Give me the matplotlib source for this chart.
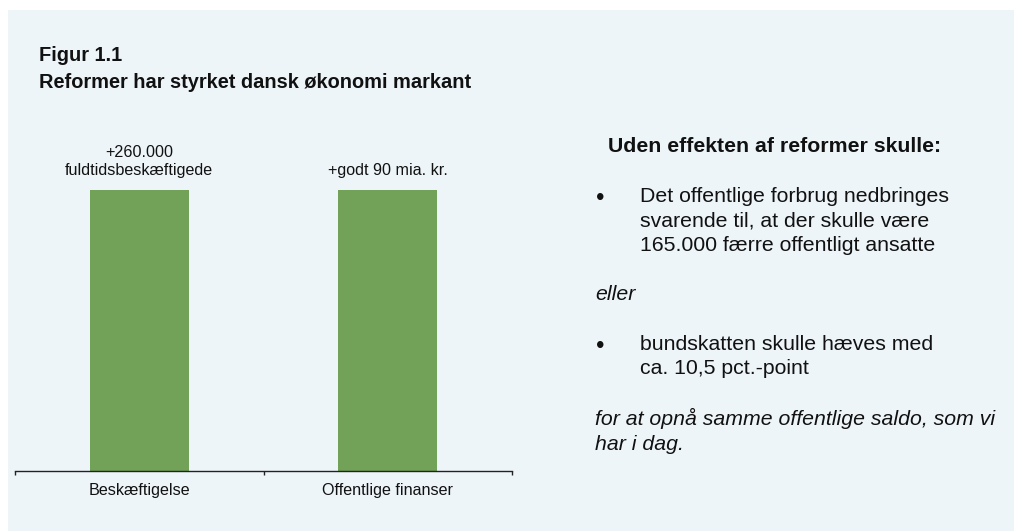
import matplotlib
matplotlib.use("Agg")
import matplotlib.pyplot as plt
from matplotlib.patches import Rectangle

plt.rcParams['font.family'] = ['Liberation Sans', 'DejaVu Sans']

categories = ["Beskæftigelse", "Offentlige finanser"]
values = [100, 100]
bar_labels = ["+260.000\nfuldtidsbeskæftigede", "+godt 90 mia. kr."]

fig_title = "Figur 1.1"
fig_subtitle = "Reformer har styrket dansk økonomi markant"
side_heading = "Uden effekten af reformer skulle:"
bullet1 = ["Det offentlige forbrug nedbringes",
           "svarende til, at der skulle være",
           "165.000 færre offentligt ansatte"]
between = "eller"
bullet2 = ["bundskatten skulle hæves med",
           "ca. 10,5 pct.-point"]
closing = ["for at opnå samme offentlige saldo, som vi",
           "har i dag."]

W, H = 1014, 531
BG = "#EDF5F9"
BAR = "#71A257"
TXT = "#111111"

fig = plt.figure(figsize=(W / 100, H / 100), dpi=100)
fig.patch.set_facecolor("white")
fig.patches.append(Rectangle((8 / W, 0), 1 - 8 / W, 1 - 10 / H,
                             transform=fig.transFigure, facecolor=BG,
                             edgecolor="none", zorder=-10))

def fx(x):
    return x / W

def fy(y):
    return 1 - y / H

PX2PT = 0.72

ax = fig.add_axes([fx(15), fy(471), fx(512) - fx(15), fy(190) - fy(471)])
ax.patch.set_visible(False)
x = list(range(len(categories)))
ax.bar(x, values, width=0.4, color=BAR, zorder=2)
ax.set_xlim(-0.5, len(categories) - 0.5)
ax.set_ylim(0, max(values))
for s in ["top", "right", "left"]:
    ax.spines[s].set_visible(False)
ax.spines["bottom"].set_color("#222222")
ax.spines["bottom"].set_linewidth(1.0)
ax.set_yticks([])
ax.set_xticks(x)
ax.set_xticklabels(categories, fontsize=11.6, color=TXT)
ax.tick_params(axis="x", which="major", length=0, pad=9)
ax.set_xticks([i - 0.5 for i in range(len(categories) + 1)], minor=True)
ax.tick_params(axis="x", which="minor", length=3.2, width=1.0, color="#222222", direction="out")

for xi, v, lab in zip(x, values, bar_labels):
    lines = lab.split("\n")
    n = len(lines)
    for k, line in enumerate(lines):
        off_px = 15 + 18 * (n - 1 - k)
        ax.annotate(line, (xi, v), xytext=(0, off_px * PX2PT), textcoords="offset points",
                    ha="center", va="baseline", fontsize=11.6, color=TXT,
                    annotation_clip=False)

fig.text(fx(39), fy(61), fig_title, fontsize=14.4, fontweight="bold", va="baseline", ha="left", color=TXT)
fig.text(fx(39), fy(88), fig_subtitle, fontsize=14.4, fontweight="bold", va="baseline", ha="left", color=TXT)

RS = 15.3
fig.text(fx(608), fy(152), side_heading, fontsize=RS, fontweight="bold", va="baseline", ha="left", color=TXT)

def bullet_block(lines, y0, step=24.5):
    fig.text(fx(600), fy(y0 + 3), "•", fontsize=RS + 2, va="baseline", ha="center", color=TXT)
    for k, line in enumerate(lines):
        fig.text(fx(640), fy(y0 + step * k), line, fontsize=RS, va="baseline", ha="left", color=TXT)

bullet_block(bullet1, 202)
fig.text(fx(595), fy(300), between, fontsize=RS, style="italic", va="baseline", ha="left", color=TXT)
bullet_block(bullet2, 350)
for k, line in enumerate(closing):
    fig.text(fx(595), fy(425 + 25 * k), line, fontsize=RS, style="italic", va="baseline", ha="left", color=TXT)

fig.savefig("out.png", dpi=100, facecolor=fig.get_facecolor())
